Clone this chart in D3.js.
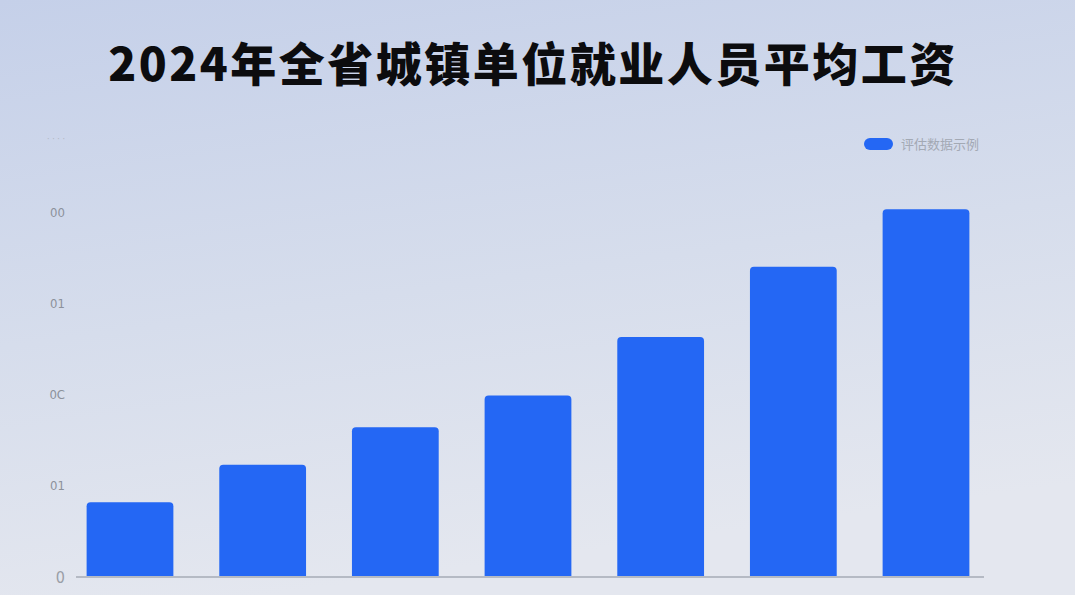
<!DOCTYPE html>
<html>
<head>
<meta charset="utf-8">
<script src="https://cdn.jsdelivr.net/npm/d3@7"></script>
<style>
  html, body { margin: 0; padding: 0; }
  body { width: 1075px; height: 595px; overflow: hidden; }
</style>
</head>
<body>
<div id="chart"></div>
<script>
// data
const title = "2024年全省城镇单位就业人员平均工资";
const legendLabel = "评估数据示例";
const categories = ["1", "2", "3", "4", "5", "6", "7"];
const values = [8.2, 12.3, 16.4, 19.9, 26.3, 34.0, 40.3];
const tickValues = [0, 10, 20, 30, 40, 48];
const tickLabels = ["0", "01", "0C", "01", "00", "· · · ·"];

const W = 1075, H = 595;
const svg = d3.select("#chart").append("svg").attr("width", W).attr("height", H);

// background
const defs = svg.append("defs");
const bg = defs.append("linearGradient").attr("id", "bg")
  .attr("x1", "0").attr("y1", "0").attr("x2", "0.25").attr("y2", "1");
bg.append("stop").attr("offset", "0").attr("stop-color", "#c5d0e9");
bg.append("stop").attr("offset", "0.55").attr("stop-color", "#d6ddec");
bg.append("stop").attr("offset", "1").attr("stop-color", "#e4e7ef");
svg.append("rect").attr("width", W).attr("height", H).attr("fill", "url(#bg)");

svg.append("text")
  .attr("x", 533).attr("y", 81)
  .attr("text-anchor", "middle")
  .attr("font-family", "Noto Sans CJK SC")
  .attr("font-weight", 900)
  .attr("font-size", 46)
  .attr("letter-spacing", 2.5)
  .attr("fill", "#0c0c0e")
  .text(title);

const x = d3.scaleBand().domain(categories).range([76, 980])
  .paddingInner(0.346).paddingOuter(0.08);
const y = d3.scaleLinear().domain([0, 40]).range([577, 212]);

// y labels (no line, no ticks)
const yAxis = svg.append("g")
  .attr("transform", "translate(65,0)")
  .call(d3.axisLeft(y).tickValues(tickValues).tickSize(0).tickPadding(0)
    .tickFormat((d, i) => tickLabels[i]));
yAxis.select(".domain").remove();
yAxis.selectAll("text")
  .attr("font-family", "Liberation Sans Narrow, DejaVu Sans Condensed, sans-serif")
  .attr("font-size", 13)
  .attr("fill", "#8c919b");
yAxis.selectAll(".tick").filter(d => d === 0).select("text")
  .attr("font-size", 16).attr("fill", "#9a9ea7");
yAxis.selectAll(".tick").filter(d => d === 48).select("text")
  .attr("font-size", 9).attr("fill", "#b0b5bf");

// bars with rounded top corners
const r = 4;
svg.append("g").selectAll("path")
  .data(values)
  .join("path")
  .attr("fill", "#2467f4")
  .attr("d", (d, i) => {
    const x0 = x(categories[i]), w = x.bandwidth();
    const top = y(d), base = y(0);
    return `M${x0},${base} V${top + r} Q${x0},${top} ${x0 + r},${top} H${x0 + w - r} Q${x0 + w},${top} ${x0 + w},${top + r} V${base} Z`;
  });

// baseline
svg.append("line")
  .attr("x1", 76).attr("x2", 984)
  .attr("y1", y(0)).attr("y2", y(0))
  .attr("stroke", "#b5bac4").attr("stroke-width", 2);

// legend
const lg = svg.append("g").attr("transform", "translate(864,138)");
lg.append("rect").attr("width", 29).attr("height", 12).attr("rx", 6).attr("fill", "#2467f4");
lg.append("text")
  .attr("x", 37).attr("y", 11)
  .attr("font-family", "Noto Sans CJK SC")
  .attr("font-size", 13)
  .attr("fill", "#a3a9b4")
  .text(legendLabel);
</script>
</body>
</html>
